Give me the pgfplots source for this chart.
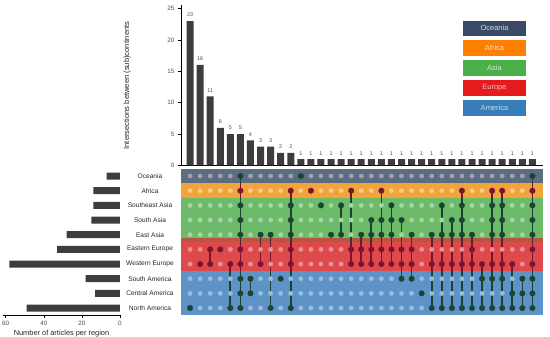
\documentclass[border=0pt]{standalone}
\usepackage{fontspec}
\setmainfont{Liberation Sans}
\usepackage{pgfplots}
\pgfplotsset{compat=1.18}
\usepackage{pgfplotstable}

\definecolor{cOce}{HTML}{3A4A66}
\definecolor{cAfr}{HTML}{FF7F00}
\definecolor{cAsia}{HTML}{4DAF4A}
\definecolor{cEur}{HTML}{E41A1C}
\definecolor{cAm}{HTML}{377EB8}
\definecolor{bOce}{HTML}{5E6C82}
\definecolor{bAfr}{HTML}{F2A33A}
\definecolor{bAsia}{HTML}{6DBA6B}
\definecolor{bEur}{HTML}{DE4A4C}
\definecolor{bEurTop}{HTML}{B5573F}
\definecolor{bAm}{HTML}{5E93C8}
\definecolor{dkGreen}{HTML}{1B4332}
\definecolor{dkRed}{HTML}{7B1230}
\definecolor{barGray}{HTML}{3D3D3D}
\colorlet{lOce}{white!38!bOce}
\colorlet{lAfr}{white!42!bAfr}
\colorlet{lAsia}{white!40!bAsia}
\colorlet{lEur}{white!40!bEur}
\colorlet{lAm}{white!38!bAm}

\pgfplotstableread{
x r
0 0
1 0
2 0
3 0
4 0
5 0
6 0
7 0
8 0
9 0
10 0
11 0
12 0
13 0
14 0
15 0
16 0
17 0
18 0
19 0
20 0
21 0
22 0
23 0
24 0
25 0
26 0
27 0
28 0
29 0
30 0
31 0
32 0
33 0
34 0
}\cols

\pgfplotsset{lightdot/.style={only marks, mark=*, mark size=2.2pt, color=#1, mark options={solid, draw=#1, fill=#1, line width=0.3pt}}}

\begin{document}
\begin{tikzpicture}
\useasboundingbox (0,0) rectangle (550pt,337pt);

% ---------- top: intersection sizes ----------
\begin{axis}[
  /pgf/number format/assume math mode=true,
  at={(181pt,171.5pt)}, anchor=south west,
  scale only axis, width=362pt, height=160.2pt,
  xmin=-0.9, xmax=35.05, ymin=0, ymax=25.5,
  axis x line*=bottom, axis y line*=left,
  axis line style={black, line width=0.6pt, -},
  xtick=\empty, ytick={0,5,10,15,20,25},
  tick align=outside, major tick length=3pt,
  tick style={black, line width=0.5pt},
  yticklabel style={font=\fontsize{6.3}{7}\selectfont, text=black!70},
  ylabel={Intersections between (sub)continents},
  every axis y label/.style={at={(axis description cs:-0.149,0.5)}, rotate=90, anchor=center, font=\fontsize{7.6}{8}\selectfont, text=black!85},
  ybar, bar width=7pt,
  nodes near coords,
  every node near coord/.append style={font=\fontsize{5.4}{6}\selectfont, text=black!70, yshift=0.5pt},
  clip=false,
]
\addplot[fill=barGray, draw=none] coordinates {
(0,23) (1,16) (2,11) (3,6) (4,5) (5,5) (6,4) (7,3) (8,3) (9,2) (10,2)
(11,1) (12,1) (13,1) (14,1) (15,1) (16,1) (17,1) (18,1) (19,1) (20,1)
(21,1) (22,1) (23,1) (24,1) (25,1) (26,1) (27,1) (28,1) (29,1) (30,1)
(31,1) (32,1) (33,1) (34,1)};
\end{axis}

% ---------- matrix ----------
\begin{axis}[
  at={(181pt,168.3pt)}, anchor=north west,
  scale only axis, width=362pt, height=146.7pt,
  xmin=-0.9, xmax=35.05, ymin=-0.5, ymax=9.5, y dir=reverse,
  axis lines=none, clip=false,
]
\addplot[fill=bOce, draw=none] coordinates {(-0.9,-0.5) (35.05,-0.5) (35.05,0.5) (-0.9,0.5)} -- cycle;
\addplot[fill=bAfr, draw=none] coordinates {(-0.9,0.5) (35.05,0.5) (35.05,1.5) (-0.9,1.5)} -- cycle;
\addplot[fill=bAsia, draw=none] coordinates {(-0.9,1.5) (35.05,1.5) (35.05,4.5) (-0.9,4.5)} -- cycle;
\addplot[fill=bEur, draw=none] coordinates {(-0.9,4.5) (35.05,4.5) (35.05,6.5) (-0.9,6.5)} -- cycle;
\addplot[fill=bEurTop, draw=none] coordinates {(-0.9,4.22) (35.05,4.22) (35.05,4.5) (-0.9,4.5)} -- cycle;
\addplot[fill=bAm, draw=none] coordinates {(-0.9,6.5) (35.05,6.5) (35.05,9.5) (-0.9,9.5)} -- cycle;

\addplot[lightdot=lOce] table[x=x, y expr=\thisrow{r}+0]{\cols};
\addplot[lightdot=lAfr] table[x=x, y expr=\thisrow{r}+1]{\cols};
\addplot[lightdot=lAsia] table[x=x, y expr=\thisrow{r}+2]{\cols};
\addplot[lightdot=lAsia] table[x=x, y expr=\thisrow{r}+3]{\cols};
\addplot[lightdot=lAsia] table[x=x, y expr=\thisrow{r}+4]{\cols};
\addplot[lightdot=lEur] table[x=x, y expr=\thisrow{r}+5]{\cols};
\addplot[lightdot=lEur] table[x=x, y expr=\thisrow{r}+6]{\cols};
\addplot[lightdot=lAm] table[x=x, y expr=\thisrow{r}+7]{\cols};
\addplot[lightdot=lAm] table[x=x, y expr=\thisrow{r}+8]{\cols};
\addplot[lightdot=lAm] table[x=x, y expr=\thisrow{r}+9]{\cols};

\addplot[no marks, dkGreen, line width=1.7pt, unbounded coords=jump] coordinates {
(2,5) (2,6) (nan,nan)
(4,6) (4,9) (nan,nan)
(5,0) (5,9) (nan,nan)
(6,7) (6,8) (nan,nan)
(7,4) (7,6) (nan,nan)
(8,4) (8,9) (nan,nan)
(10,1) (10,9) (nan,nan)
(15,2) (15,4) (nan,nan)
(16,1) (16,6) (nan,nan)
(17,4) (17,6) (nan,nan)
(18,3) (18,6) (nan,nan)
(19,1) (19,6) (nan,nan)
(20,2) (20,6) (nan,nan)
(21,3) (21,7) (nan,nan)
(22,4) (22,7) (nan,nan)
(24,4) (24,9) (nan,nan)
(25,2) (25,9) (nan,nan)
(26,3) (26,9) (nan,nan)
(27,1) (27,9) (nan,nan)
(28,4) (28,9) (nan,nan)
(29,6) (29,9) (nan,nan)
(30,1) (30,9) (nan,nan)
(31,1) (31,9) (nan,nan)
(32,6) (32,9) (nan,nan)
(33,7) (33,9) (nan,nan)
(34,0) (34,9)
};
\addplot[no marks, dkRed, line width=1.7pt, unbounded coords=jump] coordinates {
(2,5) (2,6) (nan,nan)
(4,6) (4,6.5) (nan,nan)
(5,0.5) (5,1.5) (nan,nan) (5,4.5) (5,6.5) (nan,nan)
(7,4.5) (7,6) (nan,nan)
(8,4.5) (8,6.5) (nan,nan)
(10,1) (10,1.5) (nan,nan) (10,4.5) (10,6.5) (nan,nan)
(16,1) (16,1.5) (nan,nan) (16,4.5) (16,6) (nan,nan)
(17,4.5) (17,6) (nan,nan)
(18,4.5) (18,6) (nan,nan)
(19,1) (19,1.5) (nan,nan) (19,4.5) (19,6) (nan,nan)
(20,4.5) (20,6) (nan,nan)
(21,4.5) (21,6.5) (nan,nan)
(22,4.5) (22,6.5) (nan,nan)
(24,4.5) (24,6.5) (nan,nan)
(25,4.5) (25,6.5) (nan,nan)
(26,4.5) (26,6.5) (nan,nan)
(27,1) (27,1.5) (nan,nan) (27,4.5) (27,6.5) (nan,nan)
(28,4.5) (28,6.5) (nan,nan)
(29,6) (29,6.5) (nan,nan)
(30,1) (30,1.5) (nan,nan) (30,4.5) (30,6.5) (nan,nan)
(31,1) (31,1.5) (nan,nan) (31,4.5) (31,6.5) (nan,nan)
(32,6) (32,6.5) (nan,nan)
(34,0.5) (34,1.5) (nan,nan) (34,4.5) (34,6.5)
};

\addplot[only marks, mark=*, mark size=2.8pt, color=dkGreen, mark options={solid, draw=dkGreen, fill=dkGreen, line width=0.3pt}] coordinates {
(0,9) (4,9) (5,0) (5,2) (5,3) (5,4) (5,7) (5,8) (5,9) (6,7) (6,8) (7,4)
(8,4) (8,9) (9,7) (10,2) (10,3) (10,4) (10,9) (11,0) (13,2) (14,4)
(15,2) (15,4) (17,4) (18,3) (18,4) (19,3) (19,4) (20,2) (20,3) (20,4)
(21,3) (21,7) (22,4) (22,7) (23,8) (24,4) (24,9) (25,2) (25,4) (25,9)
(26,3) (26,4) (26,9) (27,2) (27,3) (27,4) (27,9) (28,4) (28,9) (29,7) (29,9)
(30,2) (30,3) (30,4) (30,7) (30,9) (31,2) (31,3) (31,4) (31,7) (31,9)
(32,8) (32,9) (33,7) (33,8) (33,9)
(34,0) (34,2) (34,3) (34,4) (34,7) (34,8) (34,9)};
\addplot[only marks, mark=*, mark size=2.8pt, color=dkRed, mark options={solid, draw=dkRed, fill=dkRed, line width=0.3pt}] coordinates {
(1,6) (2,5) (2,6) (3,5) (4,6) (5,1) (5,5) (5,6) (7,6) (10,1) (10,5) (10,6)
(12,1) (16,1) (16,5) (16,6) (17,5) (17,6) (18,5) (18,6) (19,1) (19,5) (19,6)
(20,5) (20,6) (21,5) (21,6) (22,5) (22,6) (24,6) (25,6) (26,6) (27,1) (27,6)
(28,5) (28,6) (29,6) (30,1) (30,6) (31,1) (31,6) (32,6) (34,1) (34,5) (34,6)};
\end{axis}

% ---------- left: set sizes ----------
\begin{axis}[
  /pgf/number format/assume math mode=true,
  at={(3pt,21.6pt)}, anchor=south west,
  scale only axis, width=117pt, height=146.7pt,
  x dir=reverse, xmin=0, xmax=61.4, ymin=-0.5, ymax=9.5,
  axis x line*=bottom, axis y line=none,
  axis line style={black, line width=0.6pt, -},
  xtick={0,20,40,60}, tick align=outside, major tick length=2.5pt,
  tick style={black, line width=0.5pt},
  xticklabel style={font=\fontsize{6.3}{7}\selectfont, text=black!70},
  xlabel={Number of articles per region},
  xlabel style={font=\fontsize{7.4}{8}\selectfont, text=black!85, yshift=3pt},
  xbar, bar width=7pt, clip=false,
]
\addplot[fill=barGray, draw=none] coordinates {
(7,9) (14,8) (14,7) (15,6) (28,5) (33,4) (58,3) (18,2) (13,1) (49,0)};
\begin{scope}[every node/.style={font=\fontsize{6.6}{7}\selectfont, text=black!85, anchor=center}]
\node at (axis cs:-15.75,9) {Oceania};
\node at (axis cs:-15.75,8) {Africa};
\node at (axis cs:-15.75,7) {Southeast Asia};
\node at (axis cs:-15.75,6) {South Asia};
\node at (axis cs:-15.75,5) {East Asia};
\node at (axis cs:-15.75,4) {Eastern Europe};
\node at (axis cs:-15.75,3) {Western Europe};
\node at (axis cs:-15.75,2) {South America};
\node at (axis cs:-15.75,1) {Central America};
\node at (axis cs:-15.75,0) {North America};
\end{scope}
\end{axis}

% ---------- legend ----------
\begin{scope}[every node/.style={minimum width=63pt, minimum height=15.5pt, inner sep=0pt, font=\fontsize{7.5}{8}\selectfont}]
\node[fill=cOce, text=white!78!cOce] at (494.5pt,308.7pt) {Oceania};
\node[fill=cAfr, text=white!72!cAfr] at (494.5pt,289pt) {Africa};
\node[fill=cAsia, text=white!72!cAsia] at (494.5pt,269pt) {Asia};
\node[fill=cEur, text=white!70!cEur] at (494.5pt,249pt) {Europe};
\node[fill=cAm, text=white!72!cAm] at (494.5pt,229pt) {America};
\end{scope}
\end{tikzpicture}
\end{document}
